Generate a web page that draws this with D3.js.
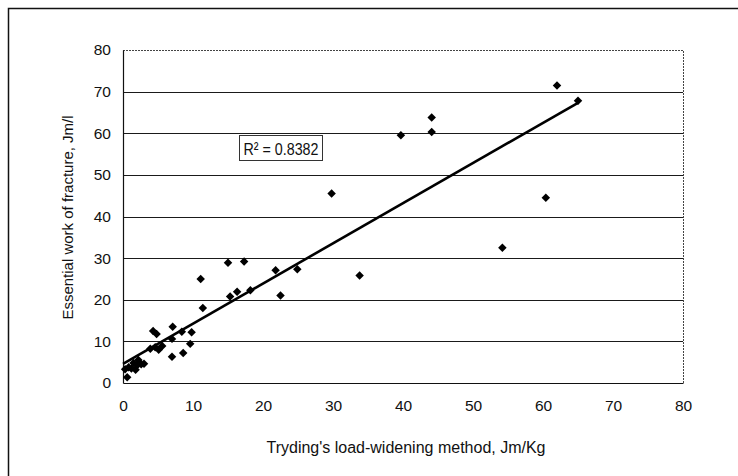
<!DOCTYPE html>
<html>
<head>
  <meta charset="utf-8">
  <title>Essential work of fracture vs Tryding's method</title>
  <script src="https://d3js.org/d3.v7.min.js"></script>
  <style>
    body { margin: 0; background: #fff; }
    svg { display: block; }
    .axis text {
      font-family: "Liberation Sans", Arial, sans-serif;
      font-size: 15.5px;
      fill: #111;
    }
    .axis path { stroke: #111; stroke-width: 1.2px; }
    .grid line { stroke: #1a1a1a; stroke-width: 1.2px; }
    .title { font-family: "Liberation Sans", Arial, sans-serif; fill: #111; }
  </style>
</head>
<body>
  <svg id="chart"></svg>

  <script>
    // Tryding's load-widening method (Jm/Kg) vs essential work of fracture (Jm/l)
    const tryding = [0.3, 0.6, 0.8, 1.2, 1.5, 1.8, 2.0, 2.2, 2.6, 3.0,
                     3.9, 4.6, 5.1, 5.6, 4.3, 4.8, 7.0, 8.6, 7.0, 9.6,
                     7.1, 8.4, 9.8, 11.1, 11.4, 15.0, 17.3, 15.3, 16.3, 18.2,
                     21.8, 22.5, 24.9, 29.8, 33.8, 39.7, 44.1, 44.1, 54.2, 60.4,
                     62.0, 65.0];
    const ewf     = [3.3, 1.4, 3.8, 3.5, 4.8, 3.2, 4.2, 5.5, 4.5, 4.6,
                     8.2, 8.6, 8.0, 8.9, 12.5, 11.8, 6.3, 7.2, 10.6, 9.4,
                     13.5, 12.3, 12.2, 25.0, 18.0, 28.9, 29.2, 20.8, 21.9, 22.3,
                     27.1, 21.0, 27.3, 45.5, 25.8, 59.5, 63.8, 60.3, 32.5, 44.5,
                     71.5, 67.8];

    const xTicks = [0, 10, 20, 30, 40, 50, 60, 70, 80];
    const yTicks = [0, 10, 20, 30, 40, 50, 60, 70, 80];

    // linear trend line
    const trendSlope = 0.965;
    const trendIntercept = 4.6;
    const trendRange = [0, 65];
    const rSquared = "0.8382";

    const width = 738;
    const height = 476;
    const plot = { left: 123, right: 683, top: 50, bottom: 383 };

    const svg = d3.select("#chart")
                  .attr("width", width)
                  .attr("height", height);

    // outer frame (only top and left edges are inside the picture)
    svg.append("rect")
       .attr("x", 8.5).attr("y", 8.5)
       .attr("width", 740).attr("height", 480)
       .attr("fill", "none")
       .attr("stroke", "#111")
       .attr("stroke-width", 1.5);

    const x = d3.scaleLinear().domain([0, 80]).range([plot.left, plot.right]);
    const y = d3.scaleLinear().domain([0, 80]).range([plot.bottom, plot.top]);

    // gridlines
    svg.append("g")
       .attr("class", "grid")
       .selectAll("line")
       .data(yTicks.filter(d => d > 0 && d < 80))
       .join("line")
       .attr("x1", plot.left).attr("x2", plot.right)
       .attr("y1", d => Math.round(y(d)) + 0.5)
       .attr("y2", d => Math.round(y(d)) + 0.5);

    // dotted top and right edges of plot area
    svg.append("path")
       .attr("d", `M${plot.left},${plot.top + 0.5}H${plot.right + 0.5}V${plot.bottom}`)
       .attr("fill", "none")
       .attr("stroke", "#444")
       .attr("stroke-width", 1)
       .attr("stroke-dasharray", "2,1");

    // axes
    svg.append("g")
       .attr("class", "axis")
       .attr("transform", `translate(0,${plot.bottom})`)
       .call(d3.axisBottom(x).tickValues(xTicks).tickSize(0).tickPadding(17).tickSizeOuter(0));

    svg.append("g")
       .attr("class", "axis")
       .attr("transform", `translate(${plot.left},0)`)
       .call(d3.axisLeft(y).tickValues(yTicks).tickSize(0).tickPadding(12).tickSizeOuter(0));

    // trend line
    svg.append("line")
       .attr("x1", x(trendRange[0]))
       .attr("y1", y(trendIntercept + trendSlope * trendRange[0]))
       .attr("x2", x(trendRange[1]))
       .attr("y2", y(trendIntercept + trendSlope * trendRange[1]))
       .attr("stroke", "#000")
       .attr("stroke-width", 2.6);

    // points
    svg.append("g")
       .selectAll("path")
       .data(d3.zip(tryding, ewf))
       .join("path")
       .attr("transform", d => `translate(${x(d[0])},${y(d[1])})`)
       .attr("d", d3.symbol(d3.symbolDiamond2, 46))
       .attr("fill", "#000");

    // R² label
    const rBox = svg.append("g").attr("transform", `translate(${Math.round(x(16.5)) + 0.5},${Math.round(y(59.6)) + 0.5})`);
    rBox.append("rect")
        .attr("width", 83).attr("height", 25)
        .attr("fill", "#fff")
        .attr("stroke", "#333")
        .attr("stroke-width", 1);
    rBox.append("text")
        .attr("x", 4).attr("y", 19)
        .attr("textLength", 75)
        .attr("lengthAdjust", "spacingAndGlyphs")
        .style("font-family", '"Liberation Sans", Arial, sans-serif')
        .style("font-size", "17px")
        .attr("fill", "#111")
        .text("R\u00b2 = " + rSquared);

    // axis titles
    svg.append("text")
       .attr("class", "title")
       .attr("x", (plot.left + plot.right) / 2 + 3)
       .attr("y", 453)
       .attr("text-anchor", "middle")
       .style("font-size", "16px")
       .text("Tryding's load-widening method, Jm/Kg");

    svg.append("text")
       .attr("class", "title")
       .attr("transform", `translate(73,${(plot.top + plot.bottom) / 2 + 1}) rotate(-90)`)
       .attr("text-anchor", "middle")
       .style("font-size", "15px")
       .text("Essential work of fracture, Jm/l");
  </script>
</body>
</html>
